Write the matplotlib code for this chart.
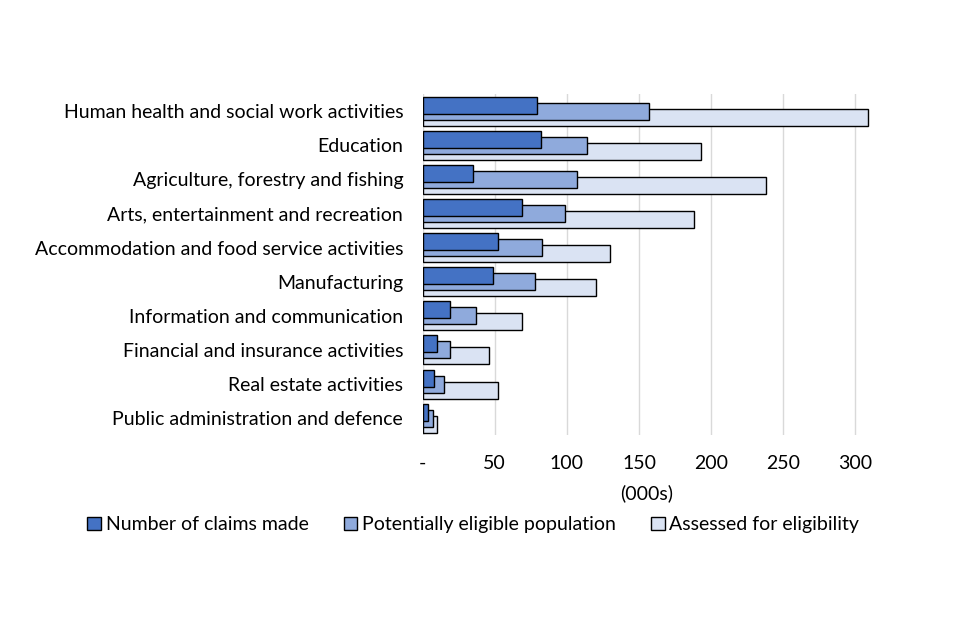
import matplotlib
matplotlib.use('Agg')
import matplotlib.pyplot as plt
import numpy as np

plt.rcParams['font.family'] = ['Lato', 'DejaVu Sans']

industries = ['Human health and social work activities', 'Education',
              'Agriculture, forestry and fishing', 'Arts, entertainment and recreation',
              'Accommodation and food service activities', 'Manufacturing',
              'Information and communication', 'Financial and insurance activities',
              'Real estate activities', 'Public administration and defence']
claims_made = [79, 82, 35, 69, 52, 49, 19, 10, 8, 4]
eligible_pop = [157, 114, 107, 99, 83, 78, 37, 19, 15, 7]
assessed = [309, 193, 238, 188, 130, 120, 69, 46, 52, 10]

series_names = ['Number of claims made', 'Potentially eligible population', 'Assessed for eligibility']
colors = ['#4472C4', '#8FAADC', '#DAE3F3']

fig = plt.figure(figsize=(9.6, 6.4), dpi=100)
ax = fig.add_axes([0.4403, 0.320, 0.4657, 0.533])

y = np.arange(len(industries))
offset = 0.176
h = 0.5
series = [claims_made, eligible_pop, assessed]
for i, (vals, name, c) in enumerate(zip(series, series_names, colors)):
    ax.barh(y + (i - 1) * offset, vals, height=h, color=c, edgecolor='black',
            linewidth=1.0, label=name, zorder=5 - i)

ax.set_ylim(len(industries) - 0.5, -0.5)
ax.set_xlim(0, 310)
ax.set_yticks(y)
ax.set_yticklabels(industries, fontsize=14)
ax.set_xticks([0, 50, 100, 150, 200, 250, 300])
ax.set_xticklabels(['-', '50', '100', '150', '200', '250', '300'], fontsize=14)
ax.tick_params(axis='y', length=0, pad=14)
ax.tick_params(axis='x', length=0, pad=14)
ax.set_xlabel('(000s)', fontsize=14, labelpad=9)
ax.grid(axis='x', color='#D9D9D9', linewidth=1)
ax.set_axisbelow(True)
for s in ax.spines.values():
    s.set_visible(False)

fig.legend(loc='center', bbox_to_anchor=(0.493, 0.18), ncol=3, frameon=False,
           fontsize=14, handlelength=0.7, handleheight=0.7, handletextpad=0.25,
           columnspacing=1.8)

fig.savefig('out.png', dpi=100)
